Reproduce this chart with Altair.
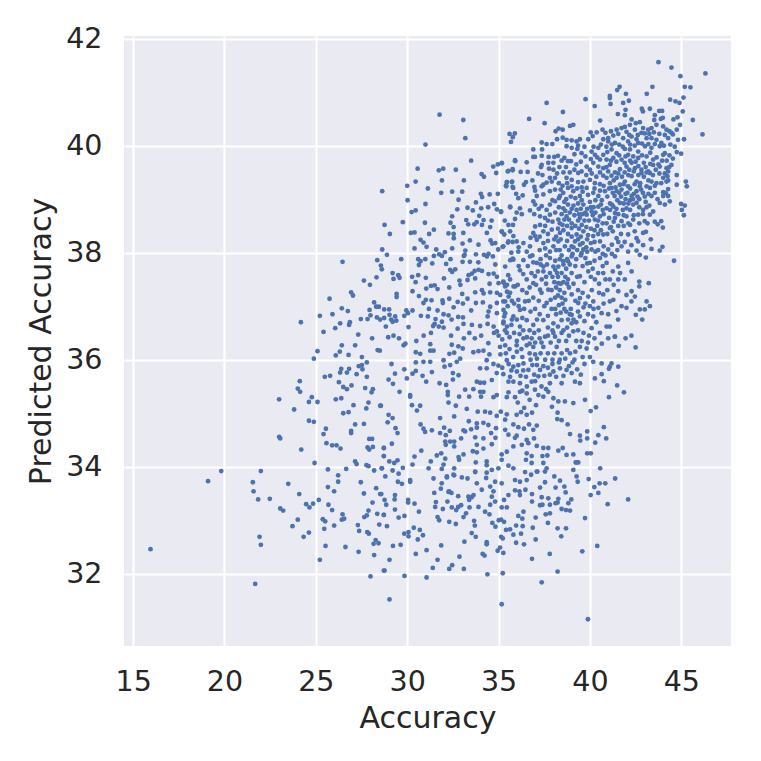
import altair as alt
import pandas as pd

lower_left = [(15.95,32.46),(19.82,33.92),(19.1,33.73),(21.99,33.92),(21.55,33.71),(21.59,33.54),(21.84,33.39),(22.48,33.40),(23.49,33.68),(24.09,33.49),(23.05,33.22),(23.21,33.18),(24.01,33.01),(23.72,32.89),(24.62,32.77),(24.33,32.69),(21.92,32.69),(21.99,32.54),(21.68,31.81),(25.53,32.52),(25.22,32.26),(26.62,32.50),(27.34,32.41),(28.19,32.35),(27.99,31.95),(28.72,32.06),(24.93,34.07),(25.66,33.95),(26.66,33.96),(26.22,33.84),(26.22,33.72),(25.66,33.62),(26.0,33.54),(27.46,33.71),(27.63,33.5),(28.3,33.6),(28.52,33.49),(25.16,33.38),(25.69,33.29),(24.47,33.3),(24.65,33.24),(24.85,33.31),(25.89,33.19),(25.38,33.02),(25.51,32.98),(25.46,32.84),(26.0,32.9),(26.46,33.11),(26.42,33.01),(26.55,33.03),(27.3,32.91),(27.37,32.8),(27.81,32.78),(27.9,32.75),(28.27,32.63),(28.16,32.56),(28.43,32.57),(28.1,33.33),(27.88,33.18),(27.65,33.06),(27.79,33.09),(28.36,33.12),(28.47,32.92),(28.72,33.1),(28.6,33.97),(28.19,33.93),(27.77,34.03),(27.88,34.01),(27.15,34.1),(27.23,34.05),(24.2,34.32),(22.99,34.56),(23.05,34.53),(25.58,34.44),(25.89,34.4),(26.13,34.4),(26.35,34.34),(25.42,34.61),(25.55,34.71),(26.93,34.67),(26.93,34.63),(24.62,34.86),(24.89,34.84),(27.63,34.8),(27.15,34.79),(27.92,34.52),(28.08,34.52),(27.83,34.36),(27.92,34.32),(28.12,34.37),(28.72,34.35),(28.72,34.2),(23.81,35.07),(22.99,35.26),(24.62,35.21),(25.09,35.21),(24.78,35.3),(24.01,35.46),(24.14,35.4),(24.12,35.6),(26.09,35.26),(26.39,35.28),(26.5,35.0),(26.79,35.02),(27.06,35.15),(27.76,35.09),(27.88,35.2),(28.56,35.14),(28.05,35.39),(28.12,35.45),(27.7,35.47),(26.95,35.52),(26.5,35.49),(26.7,35.45),(26.26,35.58),(25.49,35.68),(25.78,35.7),(26.33,35.76),(26.39,35.83),(26.7,35.76),(26.82,35.83),(27.23,35.73),(27.79,35.68),(27.55,35.82),(27.35,35.88),(27.52,35.9),(27.79,35.95),(27.52,36.05),(24.89,36.02),(25.09,36.16),(26.09,36.08),(26.31,36.15),(26.79,36.09),(26.42,36.27),(27.15,36.27),(28.38,36.18),(28.5,36.17)]

upper_middle = [(31.77,40.58),(33.07,40.48),(33.18,40.14),(31.0,40.02),(35.6,40.22),(35.89,40.23),(35.78,40.16),(35.68,40.07),(33.5,39.72),(30.57,39.57),(31.73,39.54),(31.97,39.57),(32.66,39.55),(30.46,39.33),(30.0,39.25),(31.9,39.35),(33.1,39.35),(31.13,39.2),(28.63,39.15),(31.86,39.12),(32.46,39.14),(33.01,39.14),(34.07,39.47),(34.2,39.42),(34.71,39.61),(34.96,39.65),(35.18,39.67),(35.91,39.71),(34.87,39.49),(35.5,39.52),(35.77,39.54),(35.46,39.32),(35.42,39.24),(35.73,39.32),(35.8,39.21),(34.03,39.1),(34.1,39.04),(34.51,39.09),(34.96,39.1),(30.02,38.98),(31.0,38.91),(30.24,38.76),(30.46,38.79),(32.81,38.99),(32.74,38.81),(33.3,38.84),(33.76,38.94),(33.59,38.79),(34.05,38.83),(34.43,38.85),(34.76,38.91),(34.91,38.81),(35.13,38.76),(35.64,38.85),(32.46,38.68),(33.23,38.61),(33.94,38.69),(34.18,38.61),(34.62,38.6),(28.76,38.52),(29.76,38.57),(30.97,38.56),(32.37,38.56),(32.54,38.48),(33.34,38.53),(33.67,38.53),(33.8,38.57),(34.09,38.52),(34.54,38.48),(31.46,38.43),(29.05,38.35),(30.2,38.37),(30.4,38.38),(31.2,38.35),(32.26,38.36),(32.54,38.35),(32.55,38.27),(33.07,38.37),(33.43,38.23),(34.36,38.37),(35.18,38.39),(35.31,38.34),(30.73,38.24),(30.89,38.19),(33.03,38.17),(33.9,38.15),(34.56,38.23),(34.65,38.17),(34.82,38.18),(35.51,38.19),(35.77,38.2),(28.63,38.06),(30.4,38.08),(31.06,38.11),(32.46,38.08),(31.59,38.06),(32.06,38.01),(33.18,38.04),(33.14,37.96),(34.98,38.06),(35.22,38.11),(28.89,37.96),(31.46,37.94),(31.75,37.97),(31.9,37.94),(33.1,37.94),(33.76,37.97),(34.2,37.96),(34.45,37.98),(34.36,37.93),(26.46,37.83),(28.36,37.86),(29.67,37.88),(30.6,37.88),(30.73,37.84),(30.99,37.88),(32.37,37.88),(33.03,37.83),(33.43,37.83),(33.89,37.82),(34.69,37.93),(34.82,37.78),(35.64,37.86),(35.78,37.89),(28.56,37.76),(28.61,37.69),(30.64,37.77),(31.37,37.8),(32.13,37.79),(32.35,37.68),(32.46,37.64),(32.63,37.69),(29.2,37.62),(29.51,37.58),(29.58,37.53),(29.25,37.51),(28.32,37.54),(30.27,37.55),(30.6,37.58),(31.02,37.53),(32.01,37.52),(33.36,37.58),(33.54,37.61),(33.69,37.66),(33.91,37.68),(34.09,37.66),(33.3,37.49),(33.72,37.52),(34.45,37.6),(34.73,37.61),(34.91,37.55),(35.53,37.58),(27.63,37.48),(27.96,37.4),(30.46,37.45),(31.3,37.38),(31.5,37.39),(31.04,37.33),(31.66,37.32),(32.3,37.35),(32.86,37.48),(32.91,37.4),(34.51,37.42),(35.0,37.43),(35.27,37.44),(35.46,37.4),(35.82,37.37),(30.29,37.28),(26.93,37.26),(27.03,37.2),(29.42,37.23),(29.42,37.17),(30.64,37.19),(25.75,37.14),(31.33,37.11),(30.89,37.06),(31.02,37.12),(31.93,37.11),(31.95,37.06),(32.3,37.14),(33.01,37.23),(33.3,37.14),(33.72,37.26),(34.09,37.3),(34.18,37.24),(33.76,37.06),(34.14,37.07),(34.54,37.26),(34.91,37.25),(35.09,37.21),(35.46,37.27),(35.55,37.18),(35.36,37.09),(35.73,37.1),(32.76,37.08),(33.05,37.05),(34.91,37.06),(28.19,37.07),(28.3,36.99),(28.45,36.99),(26.42,36.96),(26.75,36.91),(25.91,36.85),(25.22,36.82),(24.18,36.7),(27.94,36.93),(28.74,36.94),(29.01,36.94),(27.99,36.83),(28.34,36.79),(28.52,36.75),(28.74,36.78),(29.03,36.84),(29.12,36.75),(29.34,36.81),(29.4,36.73),(29.2,36.71),(29.95,36.92),(29.84,36.82),(30.04,36.87),(30.29,36.92),(30.75,36.82),(31.13,36.81),(31.19,36.95),(31.66,36.92),(31.99,36.85),(32.26,36.83),(32.43,36.75),(32.79,36.8),(33.05,36.79),(32.54,36.98),(33.5,36.92),(31.55,36.76),(31.5,36.67),(31.42,36.63),(31.9,36.71),(31.73,36.62),(31.99,36.6),(32.76,36.58),(33.08,36.67),(33.54,36.65),(33.99,36.63),(34.4,36.67),(34.54,36.99),(34.45,36.9),(34.4,36.81),(34.91,36.87),(35.27,36.93),(35.31,36.81),(35.27,36.71),(35.46,36.62),(35.73,36.75),(34.73,36.62),(34.91,36.53),(26.86,36.7),(26.82,36.65),(26.33,36.68),(26.06,36.59),(25.42,36.52),(27.46,36.76),(27.83,36.76),(28.83,36.62),(27.32,36.47),(30.07,36.61),(28.96,36.42),(29.25,36.45),(28.08,36.4)]

lower_middle = [(39.89,31.15),(35.17,31.43),(29.03,31.52),(37.36,31.84),(29.85,31.96),(31.06,31.93),(34.39,31.99),(35.23,32.01),(38.23,32.04),(28.76,32.06),(31.4,32.11),(32.3,32.09),(32.46,32.16),(33.1,32.09),(29.03,32.26),(31.66,32.26),(32.86,32.32),(30.47,32.37),(31.06,32.44),(34.13,32.37),(34.23,32.34),(34.95,32.43),(35.08,32.49),(35.26,32.39),(36.83,32.28),(37.8,32.37),(39.58,32.42),(40.4,32.52),(29.22,32.52),(29.64,32.54),(31.86,32.53),(33.13,32.6),(34.35,32.59),(34.35,32.55),(35.96,32.58),(36.39,32.55),(37.03,32.64),(38.43,32.7),(35.14,32.69),(35.23,32.66),(29.84,32.75),(30.07,32.78),(30.07,32.7),(30.36,32.86),(30.69,32.82),(30.86,32.72),(30.58,32.64),(33.53,32.76),(33.75,32.69),(35.41,32.82),(35.63,32.83),(35.81,32.73),(36.23,32.75),(35.96,32.9),(36.32,32.89),(36.87,32.86),(37.7,32.95),(38.23,32.85),(38.69,32.85),(39.73,33.04),(28.89,32.89),(31.66,33.06),(31.75,33.0),(32.3,32.97),(32.66,32.93),(33.08,33.06),(33.22,33.13),(33.66,32.99),(33.7,32.9),(34.66,32.95),(34.83,32.88),(35.01,33.0),(35.14,33.01),(35.3,32.97),(36.08,33.08),(36.3,33.03),(37.03,33.05),(36.36,33.16),(28.72,33.1),(29.53,33.05),(29.85,33.08),(30.64,33.16),(29.33,33.2),(30.4,33.31),(30.05,33.38),(30.05,33.33),(28.85,33.29),(28.76,33.38),(29.31,33.39),(29.33,33.47),(28.58,33.49),(31.48,33.51),(31.57,33.34),(31.53,33.25),(31.95,33.21),(32.2,33.35),(32.29,33.54),(32.42,33.51),(32.79,33.45),(32.79,33.25),(32.68,33.19),(32.44,33.24),(32.95,33.28),(33.41,33.24),(33.9,33.25),(34.26,33.16),(34.5,33.11),(33.39,33.38),(33.63,33.47),(33.35,33.44),(33.53,33.43),(34.54,33.29),(34.81,33.35),(34.63,33.44),(34.72,33.54),(35.17,33.24),(35.45,33.24),(35.3,33.38),(35.54,33.47),(35.9,33.56),(36.17,33.47),(36.14,33.54),(36.47,33.57),(36.83,33.49),(36.83,33.35),(37.4,33.29),(37.27,33.28),(37.58,33.11),(37.81,33.13),(37.81,33.29),(38.12,33.32),(38.23,33.33),(38.45,33.21),(38.69,33.19),(38.91,33.18),(38.82,33.32),(38.98,33.39),(38.67,33.52),(38.27,33.4),(37.72,33.41),(37.36,33.43),(37.27,33.61),(37.54,33.71),(38.12,33.61),(38.6,33.63),(38.36,33.74),(38.05,33.82),(37.54,33.91),(37.09,33.91),(36.78,33.85),(36.54,33.75),(35.9,33.75),(36.17,33.72),(35.17,33.69),(34.81,33.72),(34.32,33.79),(34.35,33.89),(33.72,33.9),(32.99,33.8),(33.3,33.78),(32.57,33.84),(32.17,33.8),(31.44,33.78),(31.89,33.69),(31.84,33.59),(32.26,33.53),(33.81,33.69),(34.08,33.57),(34.54,33.63),(42.09,33.39),(40.97,33.3),(40.04,33.47),(40.46,33.51),(40.24,33.62),(40.53,33.69),(40.84,33.69),(41.38,33.78),(39.93,33.77),(40.56,33.97),(39.33,33.72),(39.27,33.82),(39.09,33.94),(39.36,34.08),(39.22,34.08),(39.85,34.25),(40.05,34.25),(39.47,34.49),(39.85,34.53),(40.46,34.59),(40.89,34.53),(40.29,34.45),(40.76,34.74),(39.85,34.66),(39.45,34.58),(38.91,34.61),(38.78,34.79),(38.21,34.89),(38.45,34.87),(38.23,35.01),(37.92,35.12),(38.63,35.22),(39.09,35.19),(39.73,35.25),(40.04,35.04),(40.33,35.11),(41.04,35.3),(41.86,35.39),(41.49,35.52),(40.76,35.6),(40.27,35.65),(40.64,35.73),(41.04,35.83),(41.18,35.93),(41.55,35.87),(41.58,36.26),(42.5,36.23)]

central_band = [(30.73,34.79),(30.89,34.71),(30.98,34.65),(31.35,34.68),(31.8,34.91),(32.02,34.73),(31.8,34.63),(32.33,34.67),(32.11,34.59),(32.08,34.47),(32.11,34.41),(32.57,34.94),(32.35,34.47),(32.57,34.47),(32.57,34.38),(32.95,34.53),(33.08,34.68),(33.17,34.66),(33.37,34.85),(33.5,34.7),(33.81,34.81),(33.81,34.73),(34.17,34.82),(34.44,34.78),(33.72,34.55),(34.17,34.53),(34.59,34.63),(34.86,34.72),(34.83,34.54),(34.63,34.42),(33.81,34.41),(34.17,34.34),(33.81,34.27),(33.59,34.29),(33.08,34.23),(32.81,34.18),(32.84,34.13),(31.62,34.21),(31.86,34.25),(32.08,34.15),(30.77,34.3),(30.4,34.19),(30.29,34.04),(31.29,34.1),(31.17,33.97),(31.99,34.04),(31.89,33.96),(32.57,33.97),(32.17,33.82),(32.53,33.85),(35.17,34.23),(35.17,34.13),(35.45,34.28),(35.81,34.38),(35.9,34.54),(35.99,34.58),(35.36,34.69),(35.54,34.6),(35.81,34.79),(36.08,34.74),(36.39,34.71),(36.67,34.79),(37.09,34.77),(36.9,34.69),(36.54,34.5),(36.94,34.53),(36.63,34.44),(36.27,34.41),(37.09,34.39),(37.45,34.35),(37.72,34.35),(37.4,34.2),(37.67,34.21),(38.27,34.3),(38.51,34.35),(38.72,34.22),(39.09,34.23),(39.27,34.08),(36.54,34.25),(36.81,34.2),(36.5,34.13),(36.81,34.07),(37.45,34.07),(37.63,33.97),(37.12,33.91),(36.45,33.9),(35.81,33.97),(35.54,34.02),(34.99,33.97),(34.63,33.94),(34.35,34.03),(33.75,34.08),(33.72,33.91),(34.35,34.1),(35.36,34.88),(34.9,34.95),(35.45,34.98),(35.99,34.97),(36.23,35.02),(36.54,34.97),(36.83,35.01),(35.12,35.03),(34.54,35.01),(34.26,35.03),(33.86,35.03),(33.26,35.08),(32.66,35.14),(32.26,35.2),(32.84,35.31),(33.39,35.31),(34.04,35.31),(34.72,35.3),(35.45,35.3),(33.17,35.44),(33.62,35.45),(33.99,35.4),(34.17,35.4),(34.9,35.34),(35.54,35.39),(28.98,34.97),(29.2,34.91),(28.93,34.83),(29.36,34.72),(29.47,34.63),(29.16,34.43),(28.72,34.35),(28.72,34.2),(29.02,34.1),(29.29,34.07),(29.47,34.12),(28.62,33.97),(29.2,33.93),(29.53,33.87),(29.76,33.98),(28.8,33.82),(29.49,33.72),(29.71,33.68),(30.16,33.72),(30.16,33.75),(29.58,35.4),(30.16,35.34),(30.26,35.15),(30.53,35.05),(30.71,35.14),(28.52,35.14),(28.98,35.63),(29.22,35.55),(29.33,35.74),(29.84,35.82),(29.98,35.65),(30.29,35.74),(30.47,35.79),(30.84,35.7),(31.04,35.59),(30.47,35.95),(30.89,35.96),(31.26,35.96),(31.99,35.99),(32.04,35.87),(32.35,35.9),(32.5,35.75),(32.81,35.71),(31.35,35.77),(31.77,35.56),(32.13,35.53),(32.5,35.63),(32.22,35.4),(32.22,35.34),(30.16,35.31),(29.14,35.92),(30.47,36.14),(30.71,36.11),(29.8,36.27),(31.26,36.29),(31.26,36.17),(31.44,36.17),(32.44,36.28),(32.31,36.11),(32.57,36.13),(32.9,36.02),(32.71,35.96),(33.04,36.21),(33.62,36.14),(33.9,36.16),(34.17,36.17),(34.5,36.1),(34.44,36.31),(34.72,35.92),(34.99,35.89),(35.45,35.99),(34.35,35.99),(34.35,35.84),(33.99,35.84),(33.81,35.59),(33.99,35.57),(34.21,35.57),(34.63,35.62),(34.9,35.75),(35.26,35.73),(35.81,35.87),(36.08,35.9),(36.36,35.93),(36.63,35.81),(35.63,35.68),(35.54,35.59),(35.81,35.59),(36.17,35.56),(36.17,35.4),(36.54,35.37),(36.99,35.44),(37.18,35.34),(37.45,35.31),(36.81,35.59),(37.18,35.69),(37.27,35.81),(37.81,35.72),(38.0,35.78),(38.36,35.84),(38.72,35.81),(39.0,35.75),(39.18,35.59),(39.45,35.56),(38.45,35.56),(37.81,35.56),(37.72,35.4),(38.0,35.28),(38.27,35.22),(35.08,36.24),(35.36,36.27),(35.99,36.27),(36.54,36.27),(36.9,36.24),(37.45,36.24),(38.18,36.24),(38.45,36.12),(38.91,36.12),(39.45,36.24),(39.82,36.21),(40.0,36.05),(40.18,35.96),(40.36,36.21),(40.64,35.93),(41.09,35.87)]

upper_right_sparse = [(43.75,41.56),(44.46,41.46),(44.95,41.3),(46.32,41.35),(45.19,41.1),(45.5,41.09),(43.42,41.1),(43.11,40.97),(41.62,41.1),(41.49,41.04),(41.97,40.97),(41.09,40.93),(41.09,40.89),(41.13,40.78),(41.82,40.8),(42.13,40.84),(39.76,40.87),(40.26,40.74),(37.63,40.8),(38.52,40.63),(36.67,40.5),(37.52,40.42),(44.39,40.86),(44.68,40.83),(44.9,40.8),(45.12,40.9),(45.08,40.64),(45.63,40.48),(46.16,40.21),(42.84,40.69),(42.9,40.64),(43.28,40.69),(41.95,40.67),(41.91,40.57),(41.53,40.59),(43.79,40.65),(43.95,40.65),(43.55,40.57),(43.52,40.48),(43.88,40.5),(43.99,40.52),(44.57,40.49),(44.79,40.53),(40.56,40.47),(38.91,40.37),(39.09,40.39),(38.12,40.27),(38.29,40.32),(38.51,40.3),(38.2,40.12),(38.51,40.15),(37.36,40.06),(37.63,40.03),(37.94,40.03),(36.9,39.93),(37.38,39.93),(36.9,39.79),(36.99,39.79),(37.36,39.81),(37.74,39.79),(38.05,39.79),(38.25,39.81),(35.9,39.73),(35.17,39.68),(36.54,39.69),(37.36,39.64),(37.32,39.6),(37.72,39.68),(37.76,39.57),(35.54,39.53),(35.77,39.56),(36.21,39.51),(36.59,39.51),(37.16,39.48),(37.4,39.45),(36.85,39.35),(36.5,39.32),(36.39,39.27),(35.45,39.32),(35.74,39.33),(35.41,39.26),(35.77,39.23),(36.96,39.23),(37.0,39.16),(37.36,39.24),(37.63,39.31),(35.96,39.1),(36.08,39.02),(36.32,39.07),(35.63,38.86),(35.14,38.77),(36.17,38.83),(35.99,38.75),(36.27,38.72),(36.72,38.79),(35.34,38.6),(35.9,38.63),(35.54,38.52),(35.79,38.52),(35.17,38.4),(35.63,38.4),(35.81,38.31),(35.54,38.21),(35.99,38.21)]

right_edge = [(44.99,39.85),(44.75,39.88),(44.54,39.76),(44.34,39.6),(44.28,39.52),(44.24,39.43),(44.75,39.45),(44.75,39.27),(45.25,39.33),(45.3,39.24),(44.28,39.35),(44.28,39.19),(44.01,39.13),(44.99,38.91),(45.19,38.88),(45.03,38.8),(45.14,38.7),(43.9,38.59),(43.99,38.47),(43.55,38.58),(43.71,38.53),(43.33,38.25),(43.97,38.11),(43.82,38.04),(43.37,38.07),(44.6,37.85),(43.06,37.91),(42.73,37.96),(42.91,38.14),(43.06,38.39),(42.27,38.14),(42.55,38.04),(43.22,37.43),(42.7,37.46),(42.7,37.37),(42.28,37.28),(42.0,37.21),(42.46,37.18),(42.27,37.09),(43.1,37.09),(43.28,37.0),(42.73,36.94),(43.0,36.94),(42.51,36.84),(42.86,36.75),(42.0,36.97),(41.73,37.0),(41.45,36.91),(41.54,36.75),(41.09,36.62),(42.27,36.45),(41.95,36.4),(41.36,36.43)]

core_upper = [(42.28,40.49),(42.51,40.42),(42.73,40.44),(42.19,40.39),(42.46,40.3),(42.91,40.33),(43.19,40.3),(43.37,40.33),(43.64,40.39),(44.01,40.36),(44.19,40.3),(44.46,40.24),(44.75,40.3),(44.93,40.39),(41.46,40.3),(41.73,40.33),(41.91,40.35),(40.69,40.3),(40.04,40.25),(40.37,40.25),(38.72,40.11),(39.0,40.1),(39.27,40.08),(39.45,40.12),(39.91,40.12),(40.73,40.12),(41.0,40.14),(41.28,40.19),(41.82,40.14),(42.28,40.17),(42.55,40.12),(42.82,40.24),(43.1,40.14),(43.37,40.14),(43.64,40.11),(43.91,40.05),(44.28,40.14),(44.54,40.21),(44.82,40.11),(45.15,40.12),(41.0,40.08),(41.37,40.05),(42.09,40.08),(42.64,40.05),(38.72,39.99),(39.0,39.96),(39.31,39.94),(39.54,39.86),(40.09,39.89),(40.46,39.96),(40.27,39.83),(41.18,39.93),(41.46,39.86),(41.91,39.94),(42.19,39.93),(42.37,39.8),(42.64,39.89),(43.01,39.99),(43.37,39.96),(43.82,39.99),(44.1,39.86),(44.64,39.98),(40.73,39.83),(40.91,39.74),(41.28,39.77),(41.73,39.74),(42.09,39.83),(42.64,39.77),(43.1,39.8),(43.46,39.74),(44.01,39.83),(38.33,39.6),(38.69,39.6),(38.96,39.71),(39.54,39.52),(39.82,39.61),(40.18,39.68),(40.46,39.61),(40.73,39.58),(41.09,39.64),(41.37,39.5),(41.64,39.56),(42.28,39.68),(42.0,39.61),(42.46,39.58),(42.82,39.55),(43.19,39.52),(43.46,39.64),(43.82,39.61),(44.19,39.58),(44.46,39.64),(38.6,39.77),(38.8,39.71),(40.0,39.55),(40.55,39.74),(37.81,39.4),(38.09,39.4),(38.72,39.4),(39.0,39.36),(39.36,39.49),(39.64,39.33),(40.0,39.36),(40.27,39.3),(40.73,39.44),(40.91,39.4),(41.18,39.44),(41.46,39.4),(41.91,39.33),(42.28,39.43),(42.55,39.33),(42.82,39.49),(43.28,39.49),(43.37,39.33),(43.64,39.3),(44.01,39.4),(44.19,39.33),(43.1,39.24),(39.0,39.24),(37.91,39.33),(37.45,39.27),(41.09,39.3),(41.64,39.27),(42.09,39.24)]

core_lower = [(37.81,39.15),(38.09,39.18),(38.54,39.12),(38.8,39.21),(39.09,39.15),(39.45,39.06),(39.82,39.21),(40.18,39.12),(40.46,39.06),(40.82,39.15),(41.18,39.21),(41.46,39.15),(41.73,39.18),(42.28,39.06),(42.55,39.15),(42.73,39.24),(43.28,39.21),(43.55,39.12),(43.37,39.06),(44.01,39.06),(44.28,39.06),(38.36,39.06),(37.45,39.09),(37.09,39.06),(36.9,38.96),(37.36,38.87),(37.81,38.9),(38.09,38.96),(38.54,38.83),(38.8,38.9),(39.27,38.8),(39.64,38.9),(40.09,38.77),(40.46,38.86),(40.91,38.83),(41.28,38.86),(41.37,38.74),(41.64,38.93),(42.0,38.83),(42.37,38.9),(42.55,38.93),(42.91,38.8),(43.46,38.77),(43.82,38.93),(44.1,38.9),(44.37,38.96),(37.63,38.8),(37.0,38.9),(37.27,38.52),(37.54,38.65),(37.81,38.71),(38.27,38.62),(38.72,38.68),(39.0,38.55),(39.45,38.65),(39.82,38.71),(40.27,38.62),(40.55,38.68),(40.91,38.55),(41.37,38.65),(41.73,38.59),(42.0,38.68),(42.37,38.62),(42.64,38.71),(43.0,38.59),(43.28,38.71),(37.27,38.68),(37.0,38.49),(36.9,38.37),(37.45,38.4),(37.91,38.43),(38.36,38.37),(39.0,38.46),(39.27,38.34),(39.64,38.4),(40.18,38.31),(40.73,38.34),(41.09,38.46),(41.46,38.27),(42.09,38.34),(42.55,38.27),(42.91,38.37),(37.0,38.31),(36.36,38.18),(36.72,38.12),(37.09,38.24),(37.45,38.18),(37.81,38.02),(38.27,38.21),(38.63,38.12),(39.18,38.21),(39.64,38.06),(40.09,38.06),(40.55,38.21),(41.0,38.06),(41.37,37.93),(41.73,38.12),(42.09,38.02),(42.64,38.21),(35.26,38.12),(36.08,38.02),(36.54,38.02),(39.45,38.15),(35.36,37.74),(35.81,37.87),(36.36,37.86),(36.72,37.93),(37.09,37.81),(37.81,37.9),(38.27,37.74),(38.54,37.84),(39.0,37.93),(39.54,37.99),(40.0,37.81),(40.55,37.9),(40.91,37.81),(41.55,37.74),(42.09,37.81),(42.28,37.65),(37.45,37.74),(38.0,37.74),(38.8,37.84),(35.26,37.46),(36.17,37.67),(35.63,37.5),(36.54,37.5),(36.99,37.56),(37.36,37.5),(37.81,37.62),(38.27,37.43),(38.8,37.5),(39.45,37.56),(39.91,37.65),(40.27,37.5),(40.73,37.62),(41.09,37.5),(41.55,37.5),(41.91,37.5),(37.45,37.65),(36.9,37.43),(35.9,37.37),(35.36,37.37),(35.63,37.25),(36.08,37.12),(36.54,37.25),(36.9,37.16),(37.27,37.31),(37.72,37.31),(38.09,37.16),(38.45,37.16),(39.0,37.22),(39.36,37.06),(39.91,37.18),(40.18,37.09),(40.73,37.22),(41.09,37.09),(41.28,37.12),(41.55,37.28),(37.63,37.06),(36.45,37.09),(35.26,37.09),(35.36,36.87),(35.81,36.81),(36.17,36.93),(36.54,36.74),(36.9,36.65),(37.45,36.74),(38.0,36.68),(38.45,36.74),(39.0,36.84),(39.45,36.81),(40.0,37.0),(40.18,36.81),(40.46,36.97),(40.64,36.87),(40.91,36.62),(35.26,36.68),(35.45,36.5),(36.36,36.4),(36.81,36.4),(37.54,36.43),(38.09,36.43),(39.09,36.53),(40.09,36.59),(40.55,36.5),(41.37,36.43),(36.17,36.62),(39.0,36.68)]

core_fill_top = [(40.15,40.18),(40.85,40.24),(41.15,40.27),(41.55,40.22),(42.0,40.26),(42.15,40.2),(42.62,40.2),(43.0,40.23),(43.25,40.22),(43.5,40.25),(43.8,40.22),(44.1,40.2),(44.35,40.27),(40.6,40.02),(40.9,39.98),(41.2,40.02),(41.6,40.02),(41.8,39.98),(42.2,40.02),(42.45,40.0),(42.85,40.04),(43.2,40.03),(43.55,40.03),(44.05,40.0),(44.4,40.02),(39.7,39.98),(39.35,40.0),(40.2,39.98),(39.15,39.84),(39.75,39.8),(40.05,39.75),(40.4,39.78),(40.95,39.88),(41.15,39.72),(41.45,39.7),(41.6,39.82),(41.95,39.8),(42.2,39.72),(42.5,39.7),(42.85,39.82),(42.95,39.68),(43.3,39.87),(43.3,39.66),(43.65,39.78),(43.75,39.65),(43.95,39.72),(44.2,39.72),(44.35,39.82),(39.25,39.65),(39.5,39.7),(38.45,39.72),(38.0,39.68),(40.9,39.6),(41.9,39.68),(42.15,39.55),(42.65,39.62),(43.05,39.6),(43.6,39.55),(38.0,39.55),(38.2,39.48),(38.55,39.5),(38.9,39.5),(39.15,39.55),(39.35,39.32),(39.8,39.45),(40.1,39.48),(40.35,39.42),(40.55,39.5),(40.55,39.28),(41.0,39.52),(41.3,39.35),(41.55,39.48),(41.75,39.42),(41.9,39.5),(42.1,39.45),(42.4,39.52),(42.45,39.28),(42.65,39.45),(42.75,39.3),(42.95,39.42),(43.1,39.5),(43.2,39.35),(43.45,39.45),(43.55,39.25),(43.8,39.48),(43.9,39.3),(44.1,39.48),(38.3,39.3),(38.5,39.25),(38.75,39.3),(39.3,39.2),(39.55,39.22),(40.25,39.2),(40.75,39.25)]

core_fill_middle = [(37.95,38.98),(38.3,39.02),(38.4,39.18),(38.7,39.0),(38.95,39.05),(39.2,39.02),(39.35,38.92),(39.55,38.98),(39.6,39.14),(39.9,39.08),(40.0,38.95),(40.3,38.98),(40.55,39.16),(40.65,38.98),(40.95,39.05),(41.1,38.92),(41.35,39.06),(41.5,38.98),(41.7,39.05),(41.85,38.92),(42.05,39.12),(42.2,38.98),(42.4,39.1),(42.7,39.0),(42.9,39.12),(43.05,38.95),(43.2,39.1),(43.25,38.88),(43.7,39.0),(44.15,39.12),(38.3,38.85),(38.6,38.95),(39.0,38.82),(39.5,38.82),(39.85,38.82),(40.2,38.85),(40.7,38.8),(41.1,38.8),(41.8,38.8),(42.2,38.8),(42.7,38.85),(43.1,38.85),(36.95,38.72),(37.2,38.82),(37.55,38.5),(37.7,38.6),(37.95,38.58),(38.1,38.75),(38.45,38.72),(38.5,38.52),(38.55,38.42),(38.85,38.62),(38.9,38.75),(39.15,38.7),(39.2,38.5),(39.35,38.6),(39.55,38.52),(39.6,38.72),(39.8,38.48),(39.95,38.6),(40.05,38.45),(40.15,38.7),(40.4,38.5),(40.45,38.6),(40.7,38.55),(40.75,38.72),(41.05,38.65),(41.15,38.48),(41.55,38.5),(41.55,38.72),(41.85,38.5),(42.2,38.52),(42.45,38.4),(42.7,38.55),(37.7,38.35),(38.15,38.3),(38.8,38.35),(39.0,38.3),(39.5,38.3),(39.9,38.33),(40.45,38.35),(40.95,38.35),(41.25,38.4),(41.7,38.35),(36.75,38.28),(37.25,38.3),(37.55,38.08),(37.7,38.22),(38.0,38.12),(38.05,38.25),(38.35,38.05),(38.45,37.95),(38.75,38.22),(38.85,38.05),(39.0,38.12),(39.05,37.98),(39.35,38.25),(39.3,38.05),(39.6,38.18),(39.8,38.1),(39.85,38.25),(40.25,38.2),(40.3,38.02),(40.75,38.12),(40.85,37.95),(41.2,38.15),(41.2,37.98),(41.5,38.05),(41.55,38.2),(41.9,38.2),(36.85,37.95),(37.25,38.05),(37.3,37.88),(37.6,37.95),(38.1,37.85),(38.75,37.88),(39.25,37.88),(39.75,37.9),(40.25,37.85),(40.7,37.98),(36.1,38.1),(35.7,38.0)]

core_fill_bottom = [(36.1,37.75),(36.35,37.6),(36.6,37.75),(36.8,37.62),(36.9,37.82),(37.15,37.65),(37.3,37.78),(37.6,37.55),(37.65,37.78),(37.95,37.55),(38.1,37.68),(38.25,37.55),(38.45,37.62),(38.55,37.45),(38.7,37.7),(39.0,37.62),(39.1,37.42),(39.2,37.75),(39.3,37.55),(39.6,37.75),(39.7,37.45),(39.85,37.8),(40.05,37.55),(40.15,37.7),(40.45,37.62),(40.5,37.42),(40.7,37.75),(40.85,37.5),(41.25,37.65),(41.3,37.4),(41.65,37.62),(36.05,37.4),(36.3,37.3),(36.7,37.35),(37.05,37.4),(37.35,37.25),(37.6,37.42),(37.9,37.3),(38.15,37.35),(38.35,37.3),(38.6,37.25),(38.85,37.35),(39.35,37.3),(39.6,37.25),(40.1,37.3),(40.5,37.25),(40.95,37.3),(35.5,37.0),(35.85,37.05),(36.1,37.0),(36.4,36.95),(36.65,37.1),(36.75,36.9),(37.0,36.95),(37.2,37.1),(37.25,36.85),(37.5,37.0),(37.7,36.82),(37.85,37.12),(37.9,36.95),(38.15,36.85),(38.3,37.02),(38.6,36.95),(38.65,37.12),(38.8,36.75),(38.95,36.95),(39.2,37.1),(39.25,36.7),(39.35,36.9),(39.65,36.98),(39.7,36.72),(39.9,36.85),(40.2,36.95),(40.35,36.7),(40.75,37.05),(41.0,36.85),(35.7,36.65),(36.0,36.75),(36.3,36.78),(36.7,36.55),(37.1,36.75),(37.2,36.55),(37.7,36.6),(37.95,36.55),(38.25,36.62),(38.55,36.55),(38.75,36.6),(39.35,36.55),(39.65,36.5),(39.95,36.45),(40.25,36.4),(34.75,36.5),(35.0,36.45),(35.2,36.38),(35.35,36.55),(35.6,36.42),(35.85,36.5),(36.0,36.35),(36.15,36.48),(36.35,36.55),(36.55,36.42),(36.7,36.3),(36.95,36.5),(37.0,36.32),(37.25,36.4),(37.35,36.32),(37.7,36.45),(37.85,36.32),(38.0,36.5),(38.3,36.35),(38.45,36.5),(38.7,36.35),(38.85,36.45),(39.25,36.35),(39.55,36.35),(39.9,36.32),(40.65,36.3),(41.0,36.4),(35.1,36.1),(35.4,36.12),(35.6,36.2),(35.8,36.05),(36.0,36.15),(36.3,36.05),(36.25,36.2),(36.7,36.12),(36.75,36.0),(37.0,36.1),(37.1,36.02),(37.3,36.12),(37.55,36.0),(37.7,36.12),(37.95,36.0),(38.05,36.12),(38.35,36.0),(38.65,36.02),(38.75,36.18),(39.15,36.0),(39.2,36.15),(39.6,36.05),(34.05,36.45),(33.7,36.4),(33.4,36.5),(33.1,36.4),(32.8,36.25),(32.4,36.45),(30.9,36.45),(31.3,36.5),(30.5,36.35),(29.9,36.3),(29.55,36.4),(35.2,35.85),(35.55,35.92),(35.7,35.8),(36.0,35.78),(36.2,35.7),(36.5,35.68),(36.35,35.8),(36.85,35.9),(36.95,35.72),(37.1,35.9),(37.45,35.88),(37.5,35.7),(37.7,35.85),(37.95,35.92),(38.15,35.68),(38.3,35.95),(38.55,35.7),(38.85,35.88),(39.05,35.95),(39.3,35.82),(39.5,35.72),(39.7,35.92),(37.35,35.5),(37.6,35.45),(37.0,35.6),(36.55,35.5),(36.3,35.42),(36.7,35.25),(35.9,35.3),(36.05,35.2),(37.05,35.15),(36.4,35.1)]

ridge_clusters = [(41.05,39.2),(41.25,39.12),(41.4,39.22),(41.6,39.12),(41.85,39.28),(41.95,39.1),(42.2,39.2),(42.35,39.0),(42.6,39.05),(42.8,39.18),(43.0,39.05),(42.1,38.92),(41.95,39.0),(41.2,38.9),(41.45,38.82),(40.6,38.9),(40.3,38.75),(40.05,38.85),(39.75,38.75),(39.4,38.72),(39.1,38.88),(38.65,38.78),(38.35,38.55),(38.6,38.62),(38.25,38.45),(38.75,38.5),(38.4,38.25),(38.15,38.05),(38.55,37.78),(38.35,37.88),(38.2,37.62),(38.4,37.42),(38.65,37.55),(38.9,37.78),(38.05,37.45),(38.25,37.2),(38.5,37.05),(38.75,37.42),(38.9,36.85),(38.7,36.9),(38.4,36.88),(39.1,36.75),(38.1,36.95),(39.45,37.15),(39.75,37.05),(39.1,38.1),(39.5,37.95),(39.85,38.02),(40.05,38.18),(40.45,38.05),(39.4,38.45),(39.7,38.6),(40.25,38.42),(40.6,38.42),(41.3,38.58),(41.85,38.7),(42.1,38.55),(42.4,38.7),(42.9,38.72),(43.15,38.55)]

regions = [lower_left, upper_middle, lower_middle, central_band, upper_right_sparse, right_edge,
           core_upper, core_lower, core_fill_top, core_fill_middle, core_fill_bottom, ridge_clusters]
rows = [p for region in regions for p in region]
df = pd.DataFrame(rows, columns=["Accuracy", "Predicted Accuracy"])

x_ticks = [15, 20, 25, 30, 35, 40, 45]
y_ticks = [32, 34, 36, 38, 40, 42]

chart = (
    alt.Chart(df)
    .mark_circle(color="#4C72B0", opacity=1, size=23)
    .encode(
        x=alt.X("Accuracy:Q", scale=alt.Scale(domain=[14.5, 47.72], nice=False, zero=False),
                axis=alt.Axis(values=x_ticks, title="Accuracy", labelPadding=21, titlePadding=8, format="d")),
        y=alt.Y("Predicted Accuracy:Q", scale=alt.Scale(domain=[30.65, 42.05], nice=False, zero=False),
                axis=alt.Axis(values=y_ticks, title="Predicted Accuracy", labelPadding=22, titlePadding=9, format="d")),
    )
    .properties(width=607, height=610, padding={"left": 116, "top": 28, "right": 20, "bottom": 90},
                autosize=alt.AutoSizeParams(type="none"))
    .configure_view(fill="#EAEAF2", stroke=None)
    .configure_axis(
        grid=True, gridColor="#FFFFFF", gridWidth=2.2, domain=False, ticks=False,
        labelFont="DejaVu Sans", titleFont="DejaVu Sans", labelFontSize=28.5, titleFontSize=30,
        labelColor="#262626", titleColor="#262626", titleFontWeight="normal",
    )
)

chart.save("out.html", embed_options={"renderer": "svg", "actions": False})
